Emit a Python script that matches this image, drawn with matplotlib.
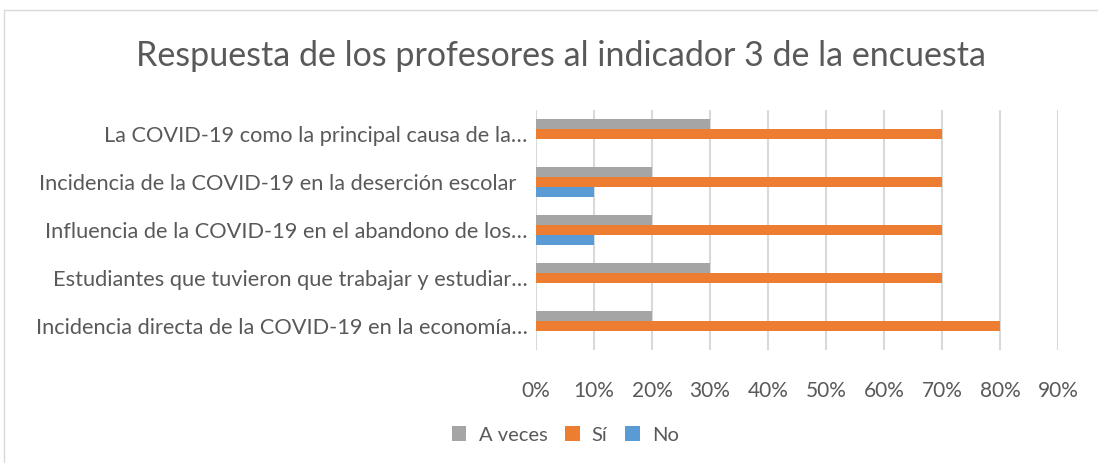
import numpy as np
import matplotlib
matplotlib.use("Agg")
import matplotlib.pyplot as plt
from matplotlib.patches import Rectangle

# categorias de cima para baixo
categorias = [
    "La COVID-19 como la principal causa de la\u2026",
    "Incidencia de la COVID-19 en la deserción escolar  ",
    "Influencia de la COVID-19 en el abandono de los\u2026",
    "Estudiantes que tuvieron que trabajar y estudiar\u2026",
    "Incidencia directa de la COVID-19 en la economía\u2026",
]
a_veces = [0.30, 0.20, 0.20, 0.30, 0.20]
si = [0.70, 0.70, 0.70, 0.70, 0.80]
no = [0.0, 0.10, 0.10, 0.0, 0.0]
series = ["A veces", "Sí", "No"]
cores = ["#A5A5A5", "#ED7D31", "#5B9BD5"]
ticks = [0, 0.1, 0.2, 0.3, 0.4, 0.5, 0.6, 0.7, 0.8, 0.9]

plt.rcParams['font.family'] = ['Lato', 'DejaVu Sans']
texto = "#595959"

fig = plt.figure(figsize=(10.98, 4.63), dpi=100)
fig.patches.append(Rectangle((4/1098, -0.05), 1.1, 1.05 - 10/463, transform=fig.transFigure,
                             fill=False, edgecolor="#D9D9D9", linewidth=1))
ax = fig.add_axes([536/1098, 1 - 350/463, (1058 - 536)/1098, 240/463])

y = np.arange(len(categorias))
h = 0.208
valores = [a_veces, si, no]
for i in range(3):
    ax.barh(y + (i - 1) * h, valores[i], height=h, color=cores[i], label=series[i], zorder=3)

ax.set_xlim(0, 0.9)
ax.set_ylim(len(categorias) - 0.5, -0.5)
ax.set_xticks(ticks)
ax.set_xticklabels([str(int(round(t * 100))) + "%" for t in ticks])
ax.set_yticks(y)
ax.set_yticklabels(categorias)
ax.grid(axis="x", color="#D9D9D9", linewidth=1.5, zorder=0)
ax.tick_params(axis="x", length=0, labelsize=15, colors=texto, pad=22)
ax.tick_params(axis="y", length=0, labelsize=15.7, colors=texto, pad=6)
for s in ax.spines.values():
    s.set_visible(False)

fig.text(0.511, 1 - 56/463, "Respuesta de los profesores al indicador 3 de la encuesta",
         ha="center", va="center", fontsize=24.5, color=texto)

fig.legend(loc="center", bbox_to_anchor=(0.515, 1 - 435/463), ncol=3, frameon=False,
           fontsize=14.5, labelcolor=texto, handlelength=0.7, handleheight=0.7,
           handletextpad=0.6, columnspacing=0.9)

fig.savefig("out.png", dpi=100)
